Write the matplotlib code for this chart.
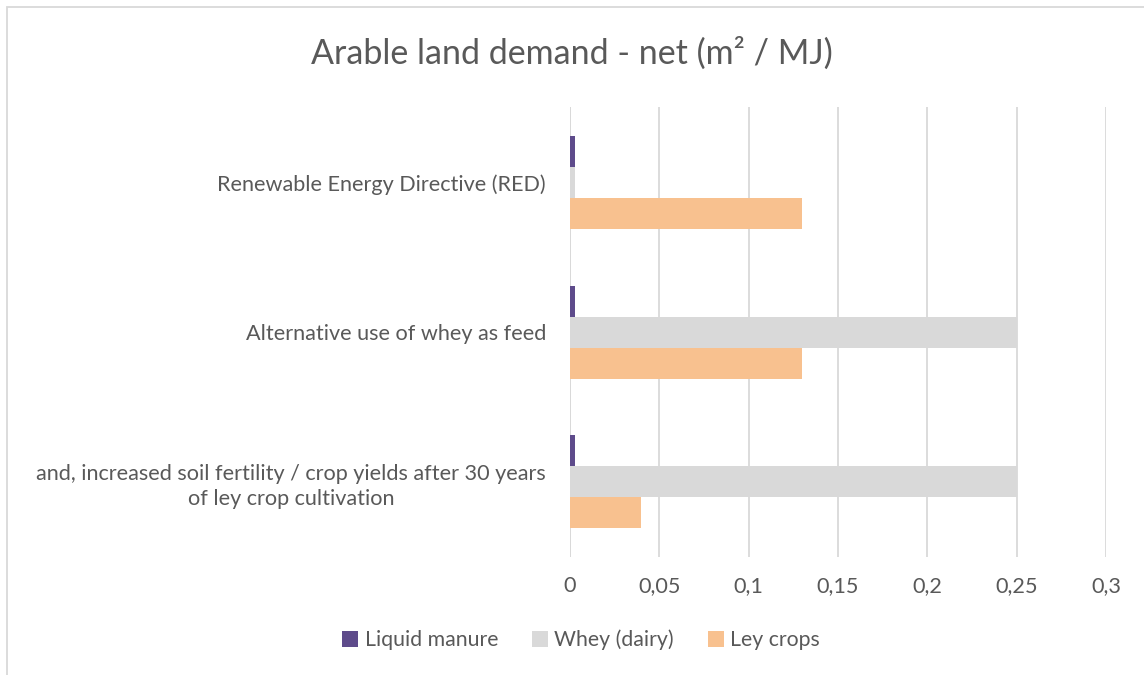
import matplotlib.pyplot as plt
from matplotlib.patches import Rectangle
import numpy as np

plt.rcParams['font.family'] = ['Lato', 'DejaVu Sans']

categories = ['and, increased soil fertility / crop yields after 30 years\nof ley crop cultivation',
              'Alternative use of whey as feed',
              'Renewable Energy Directive (RED)']
series = ['Liquid manure', 'Whey (dairy)', 'Ley crops']
liquid_manure = [0.003, 0.003, 0.003]
whey = [0.25, 0.25, 0.003]
ley_crops = [0.04, 0.13, 0.13]
colors = ['#5E4B8B', '#D9D9D9', '#F8C18F']
xticks = [0, 0.05, 0.1, 0.15, 0.2, 0.25, 0.3]
xticklabels = ['0', '0,05', '0,1', '0,15', '0,2', '0,25', '0,3']

text_color = '#595959'

fig = plt.figure(figsize=(11.44, 6.75), dpi=100)
ax = fig.add_axes([0.498, 0.175, 0.469, 0.666])

y = np.arange(len(categories))
h = 0.207
for vals, off, c, name in zip([liquid_manure, whey, ley_crops], [h, 0, -h], colors, series):
    ax.barh(y + off, vals, height=h, color=c, label=name, zorder=3)

ax.set_xlim(0, 0.3)
ax.set_ylim(-0.5, 2.5)
ax.set_xticks(xticks)
ax.set_xticklabels(xticklabels)
ax.set_yticks(y)
ax.set_yticklabels(categories, ha='right', multialignment='center', linespacing=1.3)
ax.tick_params(axis='y', length=0, pad=17, labelsize=15.6, colors=text_color)
ax.tick_params(axis='x', length=0, pad=14, labelsize=15.6, colors=text_color)
ax.grid(axis='x', color='#D9D9D9', linewidth=1.3, zorder=0)
for s in ax.spines.values():
    s.set_visible(False)
ax.axvline(0, color='#D9D9D9', linewidth=1.3, zorder=1)

fig.suptitle('Arable land demand - net (m² / MJ)', y=0.945, fontsize=24.5, color=text_color)

handles, labels = ax.get_legend_handles_labels()
fig.legend(handles, labels, loc='center', bbox_to_anchor=(0.508, 0.052), ncol=3, frameon=False,
           fontsize=15.3, labelcolor=text_color, handlelength=0.75, handleheight=0.75,
           handletextpad=0.3, columnspacing=1.6)

fig.patches.append(Rectangle((7 / 1144, -0.1), 1.2, 0.1 + (675 - 7.5) / 675,
                             transform=fig.transFigure, fill=False,
                             edgecolor='#D9D9D9', linewidth=1.3))

plt.savefig('out.png', dpi=100)
